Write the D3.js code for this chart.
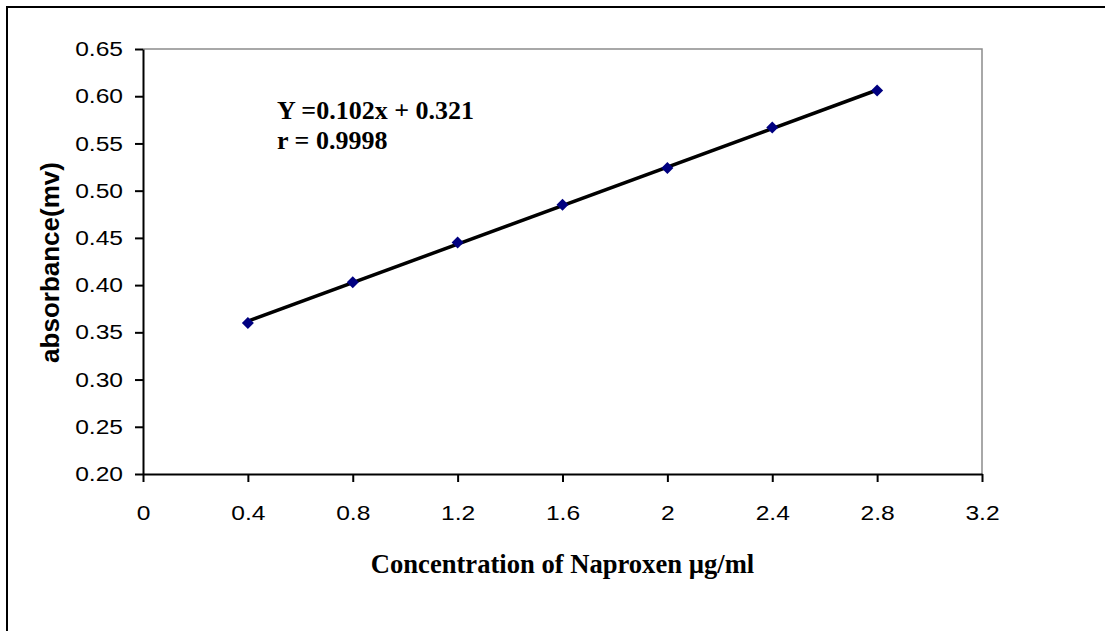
<!DOCTYPE html>
<html>
<head>
<meta charset="utf-8">
<script src="https://cdn.jsdelivr.net/npm/d3@7"></script>
<style>
  body { margin: 0; background: #fff; }
  .tick text { font-family: "Liberation Sans", Arial, sans-serif; }
</style>
</head>
<body>
<div id="container"></div>
<script>
// data
var concentration = [0.4, 0.8, 1.2, 1.6, 2.0, 2.4, 2.8];
var absorbance = [0.360, 0.403, 0.445, 0.485, 0.524, 0.567, 0.606];
var xTicks = [0, 0.4, 0.8, 1.2, 1.6, 2, 2.4, 2.8, 3.2];
var yTicks = [0.20, 0.25, 0.30, 0.35, 0.40, 0.45, 0.50, 0.55, 0.60, 0.65];
var slope = 0.102;
var intercept = 0.321;
var equationLines = ["Y =0.102x + 0.321", "r = 0.9998"];

var svgWidth = 1105;
var svgHeight = 631;

var margin = { top: 49, right: 123, bottom: 157, left: 143 };
var width = svgWidth - margin.left - margin.right;
var height = svgHeight - margin.top - margin.bottom;

var svg = d3.select("#container")
  .append("svg")
  .attr("width", svgWidth)
  .attr("height", svgHeight);

svg.append("rect")
  .attr("width", svgWidth)
  .attr("height", svgHeight)
  .attr("fill", "#fff");

// outer frame (runs off the right and bottom edges)
svg.append("rect")
  .attr("x", 7)
  .attr("y", 7)
  .attr("width", 1120)
  .attr("height", 650)
  .attr("fill", "none")
  .attr("stroke", "#000")
  .attr("stroke-width", 2);

var chart = svg.append("g")
  .attr("transform", `translate(${margin.left}, ${margin.top})`);

var x = d3.scaleLinear().domain([0, 3.2]).range([0, width]);
var y = d3.scaleLinear().domain([0.20, 0.65]).range([height, 0]);

// top and right plot-area border in grey
chart.append("path")
  .attr("d", `M0,0H${width}V${height}`)
  .attr("fill", "none")
  .attr("stroke", "#8c8c8c")
  .attr("stroke-width", 1.5);

var xAxis = chart.append("g")
  .attr("transform", `translate(0, ${height})`)
  .call(d3.axisBottom(x).tickValues(xTicks).tickSizeInner(8).tickSizeOuter(0)
    .tickPadding(23).tickFormat(d3.format("")));

var yAxis = chart.append("g")
  .call(d3.axisLeft(y).tickValues(yTicks).tickSizeInner(8).tickSizeOuter(0)
    .tickPadding(12).tickFormat(d3.format(".2f")));

[xAxis, yAxis].forEach(function(ax) {
  ax.select(".domain").attr("stroke", "#000").attr("stroke-width", 2);
  ax.selectAll(".tick line").attr("stroke", "#000").attr("stroke-width", 2);
  ax.selectAll(".tick text")
    .attr("fill", "#000")
    .style("font-size", "20.5px");
});

// the chart labels are a bit wider than the font
yAxis.selectAll(".tick text")
  .attr("x", -20 / 1.2)
  .attr("transform", "scale(1.2,1)");
xAxis.selectAll(".tick text")
  .attr("transform", "scale(1.2,1)");

// trend line from the equation
var trend = concentration.map(function(c) { return [c, slope * c + intercept]; });
chart.append("path")
  .datum([trend[0], trend[trend.length - 1]])
  .attr("fill", "none")
  .attr("stroke", "#000")
  .attr("stroke-width", 3.5)
  .attr("d", d3.line().x(d => x(d[0])).y(d => y(d[1])));

// diamond markers
chart.selectAll(".pt")
  .data(concentration)
  .enter()
  .append("path")
  .attr("class", "pt")
  .attr("transform", (d, i) => `translate(${x(d)}, ${y(absorbance[i])}) rotate(45)`)
  .attr("d", d3.symbol().type(d3.symbolSquare).size(72))
  .attr("fill", "#000080");

// equation text
chart.append("text")
  .attr("x", 134)
  .attr("y", 70)
  .style("font-family", "'Liberation Serif', 'Times New Roman', serif")
  .style("font-weight", "bold")
  .style("font-size", "26px")
  .selectAll("tspan")
  .data(equationLines)
  .enter()
  .append("tspan")
  .attr("x", 134)
  .attr("dy", (d, i) => i === 0 ? 0 : 30)
  .text(d => d);

// axis titles
svg.append("text")
  .attr("transform", `translate(59, ${margin.top + height / 2 + 1}) rotate(-90)`)
  .attr("text-anchor", "middle")
  .style("font-family", "'Liberation Sans', Arial, sans-serif")
  .style("font-weight", "bold")
  .style("font-size", "26px")
  .text("absorbance(mv)");

svg.append("text")
  .attr("x", margin.left + width / 2)
  .attr("y", 573)
  .attr("text-anchor", "middle")
  .style("font-family", "'Liberation Serif', 'Times New Roman', serif")
  .style("font-weight", "bold")
  .style("font-size", "26.6px")
  .text("Concentration of Naproxen µg/ml");
</script>
</body>
</html>
